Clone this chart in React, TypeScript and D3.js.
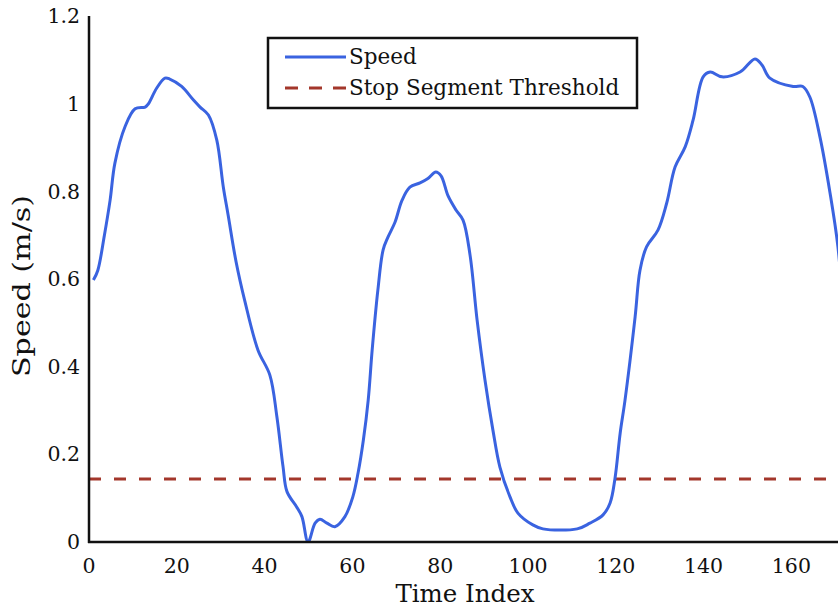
import React from "react";
import * as d3 from "d3";

const timeIndex = [1, 2, 3.5, 4.8, 5.9, 8.2, 10.5, 12.8, 13.5, 15.4, 17.3, 18.4, 21.1, 23.8, 25.3, 27.2, 29.1, 30.6, 31.7, 33.5, 35.5, 38.5, 41.2, 42.8, 44.2, 45.1, 47.3, 48.5, 49.9, 51.5, 52.6, 54.2, 56, 58.3, 60.1, 61.3, 62.5, 63.6, 64.5, 65.8, 67, 68.1, 69.7, 71.3, 73.1, 75.4, 77.2, 79, 80.2, 81.8, 83.6, 85.2, 86.8, 88.4, 90.2, 92, 93.6, 95.9, 97.7, 101.1, 103.4, 111.2, 114.1, 117.1, 118.7, 119.8, 121, 122.1, 124.4, 125.5, 127, 129.6, 131.6, 133.5, 135.8, 137.6, 139.9, 141.5, 144.2, 148.3, 151.7, 153.3, 155.1, 160.4, 162.6, 164.2, 166.5, 168.8, 170.6, 172];
const speed = [0.598, 0.62, 0.7, 0.78, 0.865, 0.948, 0.989, 0.993, 1.0, 1.036, 1.059, 1.057, 1.04, 1.009, 0.993, 0.975, 0.918, 0.81, 0.746, 0.64, 0.55, 0.438, 0.381, 0.286, 0.172, 0.115, 0.08, 0.058, 0.0, 0.043, 0.052, 0.043, 0.035, 0.058, 0.103, 0.158, 0.233, 0.324, 0.438, 0.575, 0.667, 0.696, 0.73, 0.78, 0.81, 0.82, 0.83, 0.845, 0.836, 0.79, 0.758, 0.735, 0.655, 0.507, 0.37, 0.256, 0.171, 0.103, 0.066, 0.039, 0.03, 0.03, 0.043, 0.062, 0.089, 0.144, 0.249, 0.324, 0.514, 0.62, 0.674, 0.712, 0.774, 0.856, 0.902, 0.963, 1.062, 1.073, 1.062, 1.073, 1.103, 1.089, 1.059, 1.04, 1.04, 1.016, 0.925, 0.797, 0.674, 0.5];
const threshold = 0.144;
const xTicks = [0, 20, 40, 60, 80, 100, 120, 140, 160];
const yTicks = [0, 0.2, 0.4, 0.6, 0.8, 1, 1.2];
const legendLabels = ["Speed", "Stop Segment Threshold"];

const W = 838, H = 608;
const font = "'DejaVu Serif', serif";

export default function App() {
  const x = d3.scaleLinear().domain([0, 180]).range([89, 89 + 180 * 4.39]);
  const y = d3.scaleLinear().domain([0, 1.2]).range([542, 16.4]);
  const pts = timeIndex.map((t, i) => [t, speed[i]] as [number, number]);
  const line = d3.line<[number, number]>().x(d => x(d[0])).y(d => y(d[1])).curve(d3.curveCatmullRom.alpha(0.5));
  const blue = "#3a63e0";
  const red = "#a3372b";
  return (
    <svg width={W} height={H} style={{ position: "absolute", left: 0, top: 0, background: "#fff" }}>
      <defs>
        <clipPath id="plot"><rect x={89} y={0} width={W - 89} height={543} /></clipPath>
      </defs>
      <g clipPath="url(#plot)">
        <line x1={x(0)} x2={W} y1={y(threshold)} y2={y(threshold)} stroke={red} strokeWidth={3} strokeDasharray="12 13" />
        <path d={line(pts) || ""} fill="none" stroke={blue} strokeWidth={3} strokeLinejoin="round" />
      </g>
      <line x1={89} x2={89} y1={16} y2={543} stroke="#111" strokeWidth={2.5} />
      <line x1={88} x2={W} y1={542} y2={542} stroke="#111" strokeWidth={2.5} />
      {yTicks.map(t => (
        <text key={t} x={80} y={y(t) + 7} textAnchor="end" fontFamily={font} fontSize={20.5} fill="#111">{String(t)}</text>
      ))}
      {xTicks.map(t => (
        <text key={t} x={x(t)} y={573} textAnchor="middle" fontFamily={font} fontSize={20.5} fill="#111">{String(t)}</text>
      ))}
      <text x={465} y={602} textAnchor="middle" fontFamily={font} fontSize={24.5} fill="#111">Time Index</text>
      <text transform="translate(30,286) rotate(-90)" textAnchor="middle" fontFamily={font} fontSize={25} fill="#111" textLength={182} lengthAdjust="spacingAndGlyphs">Speed (m/s)</text>
      <rect x={268} y={38} width={369} height={70} fill="#fff" stroke="#111" strokeWidth={2.5} />
      <line x1={285} x2={346} y1={57} y2={57} stroke={blue} strokeWidth={3} />
      <line x1={285} x2={346} y1={88} y2={88} stroke={red} strokeWidth={3} strokeDasharray="13 11" />
      <text x={349} y={64} fontFamily={font} fontSize={21.5} fill="#111">{legendLabels[0]}</text>
      <text x={349} y={95} fontFamily={font} fontSize={21.5} fill="#111">{legendLabels[1]}</text>
    </svg>
  );
}
